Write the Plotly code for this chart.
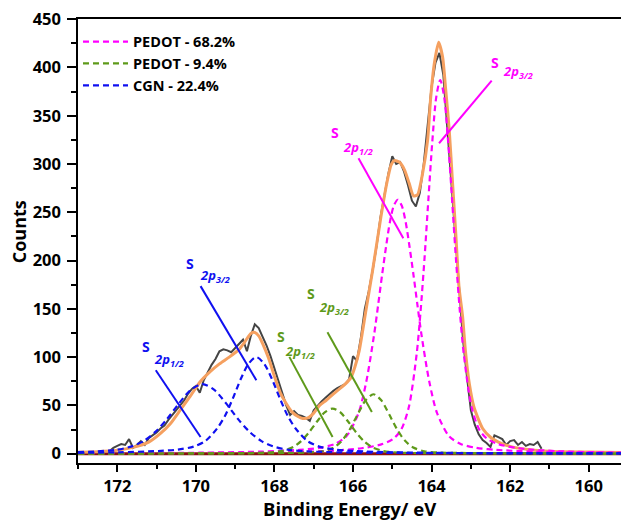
import plotly.graph_objects as go

# ---------------- data ----------------
# raw spectrum (dark grey)
raw_x = [172.2, 172.1, 172.0, 171.9, 171.8, 171.7, 171.6, 171.5, 171.4, 171.3, 171.2, 171.1, 171.0,
         170.9, 170.8, 170.7, 170.6, 170.5, 170.4, 170.3, 170.2, 170.1, 170.0, 169.9, 169.8, 169.7,
         169.6, 169.5, 169.4, 169.3, 169.2, 169.1, 169.0, 168.9, 168.8, 168.7, 168.6, 168.5, 168.4,
         168.3, 168.2, 168.1, 168.0, 167.9, 167.8, 167.7, 167.6, 167.5, 167.4, 167.3, 167.2, 167.1,
         167.0, 166.9, 166.8, 166.7, 166.6, 166.5, 166.4, 166.3, 166.2, 166.1, 166.0, 165.9, 165.8,
         165.7, 165.6, 165.5, 165.4, 165.3, 165.2, 165.1, 165.0, 164.9, 164.8, 164.7, 164.6, 164.5,
         164.4, 164.3, 164.2, 164.1, 164.0, 163.9, 163.8, 163.7, 163.6, 163.5, 163.4, 163.3, 163.2,
         163.1, 163.0, 162.9, 162.8, 162.7, 162.6, 162.5, 162.4, 162.3, 162.2, 162.1, 162.0, 161.9,
         161.8, 161.7, 161.6, 161.5, 161.4, 161.3, 161.2]
raw_y = [2.5, 6, 8, 10, 9, 15, 6, 9, 13, 9, 16, 19, 22,
         26, 29, 35, 40, 45, 50, 55, 62, 67, 70, 63, 76, 84,
         92, 98, 106, 108, 107, 105, 109, 113, 118, 106, 122, 134, 130,
         121, 112, 101, 88, 75, 62, 50, 40, 44, 40, 39, 37, 34,
         45, 50, 54, 58, 62, 65, 68, 70, 72, 77, 101, 96, 120,
         150, 168, 190, 215, 245, 268, 290, 308, 300, 302, 292, 278, 262,
         256, 270, 300, 340, 380, 405, 415, 392, 335, 285, 225, 165, 118,
         80, 45, 30, 20, 14, 11, 7, 19, 17, 15, 9, 13, 14,
         9, 12, 8, 10, 9, 12, 5]

# fitted envelope (orange)
env_x = [173.0, 172.5, 172.0, 171.6, 171.2, 170.9, 170.65, 170.4, 170.15, 169.9, 169.65, 169.4,
         169.15, 168.9, 168.75, 168.6, 168.5, 168.4, 168.3, 168.15, 168.0, 167.85, 167.7, 167.55,
         167.4, 167.28, 167.15, 167.0, 166.85, 166.68, 166.45, 166.2, 166.05, 165.95, 165.84,
         165.67, 165.5, 165.29, 165.16, 165.03, 164.95, 164.82, 164.69, 164.57, 164.46, 164.36,
         164.23, 164.1, 164.02, 163.93, 163.82, 163.72, 163.64, 163.55, 163.47, 163.38, 163.3,
         163.21, 163.14, 163.04, 162.92, 162.7, 162.5, 162.3, 162.0, 161.5, 161.0, 160.0, 159.0]
env_y = [1.5, 2, 3.5, 6.5, 12, 21, 31, 45, 59, 74, 84.5, 93,
         100, 108, 116, 124.5, 125.5, 122, 114, 99, 80, 63, 52, 43,
         38.5, 36.5, 37, 42, 50, 55.3, 63.5, 72, 79, 90, 107,
         148.6, 190, 245, 276, 299, 303.5, 302, 294, 280, 267, 268,
         290, 325, 370, 404, 426, 411, 377, 335, 283, 225, 172,
         142, 107, 72.6, 48, 26, 17, 12, 7.5, 4, 2.5, 1.7, 1.2]

# PEDOT S 2p3/2 (magenta)
pm32_x = [173.0, 168.78, 166.78, 165.78, 165.28, 164.98, 164.78, 164.58, 164.38, 164.28, 164.18,
          164.08, 163.98, 163.88, 163.78, 163.68, 163.58, 163.48, 163.38, 163.28, 163.18, 162.98,
          162.78, 162.58, 162.28, 161.78, 160.78, 159.0]
pm32_y = [0.28, 0.93, 2.5, 5.6, 9.6, 15.2, 24.4, 48, 103, 147.4, 202,
          264, 324, 369.6, 387, 369.6, 324, 264, 202, 147.4, 103, 48,
          24.4, 15.2, 9.6, 5.6, 2.5, 1.0]
# PEDOT S 2p1/2 (magenta)
pm12_x = [173.0, 169.86, 168.36, 167.36, 166.86, 166.46, 166.16, 165.86, 165.66, 165.46, 165.36,
          165.26, 165.16, 165.06, 164.96, 164.86, 164.76, 164.66, 164.56, 164.46, 164.36, 164.26,
          164.06, 163.86, 163.56, 163.26, 162.86, 162.36, 161.36, 159.86, 159.0]
pm12_y = [0.4, 1.0, 2.1, 3.9, 6.0, 10.0, 18.4, 42, 75, 124, 154,
          185, 214, 240, 257, 263, 257, 240, 214, 185, 154, 124,
          75, 42, 18.4, 10.0, 6.0, 3.9, 2.1, 1.0, 0.8]
# PEDOT (9.4 %) S 2p3/2 (green)
pg32_x = [173.0, 170.48, 168.48, 167.68, 167.18, 166.78, 166.48, 166.28, 166.08, 165.88, 165.68,
          165.48, 165.28, 165.08, 164.88, 164.68, 164.48, 164.18, 163.78, 163.28, 162.48, 160.48, 159.0]
pg32_y = [0.07, 0.15, 0.4, 0.7, 1.1, 2.4, 6.6, 13.5, 25.3, 40.7, 55.2,
          61.5, 55.2, 40.7, 25.3, 13.5, 6.6, 2.4, 1.1, 0.7, 0.4, 0.15, 0.08]
# PEDOT (9.4 %) S 2p1/2 (green)
pg12_x = [173.0, 171.52, 169.52, 168.72, 168.22, 167.82, 167.52, 167.32, 167.12, 166.92, 166.72,
          166.52, 166.32, 166.12, 165.92, 165.72, 165.52, 165.22, 164.82, 164.32, 163.52, 161.52, 159.0]
pg12_y = [0.09, 0.12, 0.33, 0.6, 1.05, 2.6, 6.9, 12.9, 22, 33, 42.7,
          46.7, 42.7, 33, 22, 12.9, 6.9, 2.6, 1.05, 0.6, 0.33, 0.12, 0.07]
# CGN S 2p3/2 (blue)
cg32_x = [173.0, 171.96, 170.96, 170.46, 170.06, 169.76, 169.46, 169.26, 169.06, 168.86, 168.66,
          168.46, 168.26, 168.06, 167.86, 167.66, 167.46, 167.16, 166.86, 166.46, 165.96, 164.96,
          163.46, 159.0]
cg32_y = [0.85, 1.4, 2.7, 4.2, 7.3, 13, 26, 39, 57, 77, 93,
          100, 93, 77, 57, 39, 26, 13, 7.3, 4.2, 2.7, 1.4,
          0.7, 0.2]
# CGN S 2p1/2 (blue)
cg12_x = [173.0, 172.53, 172.03, 171.63, 171.33, 171.03, 170.73, 170.43, 170.13, 169.83, 169.53,
          169.23, 168.93, 168.63, 168.33, 168.03, 167.63, 167.13, 166.33, 164.83, 161.83, 159.0]
cg12_y = [1.6, 2.3, 3.9, 7.5, 13, 22.5, 36, 52, 66, 72, 66,
          52, 36, 22.5, 13, 7.5, 3.9, 2.3, 1.3, 0.7, 0.3, 0.2]

# background
bg_x = [173.0, 159.0]
bg_y = [0.0, 0.0]

legend_names = ["PEDOT - 68.2%", "PEDOT - 9.4%", "CGN - 22.4%"]
x_ticks = [172, 170, 168, 166, 164, 162, 160]
y_ticks = [0, 50, 100, 150, 200, 250, 300, 350, 400, 450]

MAG = "#FF00FF"
GRN = "#5E9A1A"
BLU = "#1010F0"

# peak labels: (sub, S x, S y, "2p" x, "2p" y, pointer x0, y0, x1, y1, colour)
labels = [
    ("3/2", 162.383, 405.0, 162.238, 395.1, 162.47, 386.4, 163.81, 321.5, MAG),
    ("1/2", 166.447, 332.5, 166.302, 316.6, 165.86, 306.0, 164.72, 223.0, MAG),
    ("3/2", 170.137, 197.0, 169.952, 183.9, 169.88, 173.5, 168.46, 76.0, BLU),
    ("1/2", 171.280, 111.3, 171.128, 96.8, 171.02, 86.4, 169.88, 17.2, BLU),
    ("3/2", 167.064, 165.9, 166.904, 150.4, 166.65, 125.8, 165.52, 43.1, GRN),
    ("1/2", 167.844, 121.6, 167.793, 105.0, 167.62, 100.2, 166.52, 17.2, GRN),
]

FONT = "Open Sans"
DASH = "6px,4px"

fig = go.Figure()
fig.add_trace(go.Scatter(x=bg_x, y=bg_y, mode="lines", line=dict(color="#8B1010", width=3),
                         showlegend=False, hoverinfo="skip"))
fig.add_trace(go.Scatter(x=raw_x, y=raw_y, mode="lines", line=dict(color="#444444", width=2),
                         showlegend=False))
fig.add_trace(go.Scatter(x=env_x, y=env_y, mode="lines",
                         line=dict(color="#F5A060", width=3, shape="spline", smoothing=0.6),
                         showlegend=False))

comps = [
    (pm32_x, pm32_y, MAG, legend_names[0], True),
    (pm12_x, pm12_y, MAG, legend_names[0], False),
    (pg32_x, pg32_y, GRN, legend_names[1], True),
    (pg12_x, pg12_y, GRN, legend_names[1], False),
    (cg32_x, cg32_y, BLU, legend_names[2], True),
    (cg12_x, cg12_y, BLU, legend_names[2], False),
]
for cx, cy, col, name, show in comps:
    fig.add_trace(go.Scatter(x=cx, y=cy, mode="lines", name=name, legendgroup=name,
                             showlegend=show,
                             line=dict(color=col, width=2.2, dash=DASH, shape="spline", smoothing=0.8)))

for sub, sx, sy, px_, py_, x0, y0, x1, y1, col in labels:
    fig.add_shape(type="line", xref="x", yref="y", x0=x0, y0=y0, x1=x1, y1=y1,
                  line=dict(color=col, width=2))
    fig.add_annotation(x=sx, y=sy, xref="x", yref="y", xanchor="center", yanchor="middle",
                       showarrow=False, text="S",
                       font=dict(family=FONT, size=14, color=col, weight="bold"))
    fig.add_annotation(x=px_, y=py_, xref="x", yref="y", xanchor="left", yanchor="middle",
                       showarrow=False, text="<i>2p<sub>" + sub + "</sub></i>",
                       font=dict(family=FONT, size=13, color=col, weight="bold"))

# axis titles
fig.add_annotation(x=0.4945, y=-0.103, xref="paper", yref="paper", xanchor="center",
                   yanchor="middle", showarrow=False, text="Binding Energy/ eV",
                   font=dict(family=FONT, size=18.5, color="black", weight="bold"))
fig.add_annotation(x=-0.107, y=0.52, xref="paper", yref="paper", xanchor="center",
                   yanchor="middle", showarrow=False, text="Counts", textangle=-90,
                   font=dict(family=FONT, size=18, color="black", weight="bold"))

axis_common = dict(showline=True, linecolor="black", linewidth=1.5, mirror=True,
                   ticks="outside", tickcolor="black", tickwidth=1.5,
                   showgrid=False, zeroline=False, automargin=False,
                   ticklabeloverflow="allow",
                   tickfont=dict(family=FONT, size=16.5, color="black", weight="bold"))

fig.update_xaxes(range=[173, 159], tickvals=x_ticks, ticklen=7,
                 minor=dict(ticks="outside", ticklen=4, dtick=1, tickcolor="black", tickwidth=1.5),
                 **axis_common)
fig.update_yaxes(range=[-9.7, 450.2], tickvals=y_ticks, ticklen=9, ticklabelstandoff=3,
                 minor=dict(ticks="outside", ticklen=5, dtick=25, tickcolor="black", tickwidth=1.5),
                 **axis_common)

# the page adds an 8 px body margin, so the figure is 8 px smaller and margins shifted
fig.update_layout(
    width=621, height=515,
    margin=dict(l=70, r=1, t=11, b=60),
    paper_bgcolor="white", plot_bgcolor="white",
    legend=dict(x=0.0, y=0.985, xanchor="left", yanchor="top", bgcolor="rgba(0,0,0,0)",
                font=dict(family=FONT, size=14.5, color="black", weight="bold"),
                itemwidth=45, tracegroupgap=0, traceorder="normal"),
)

fig.write_html("out.html")
